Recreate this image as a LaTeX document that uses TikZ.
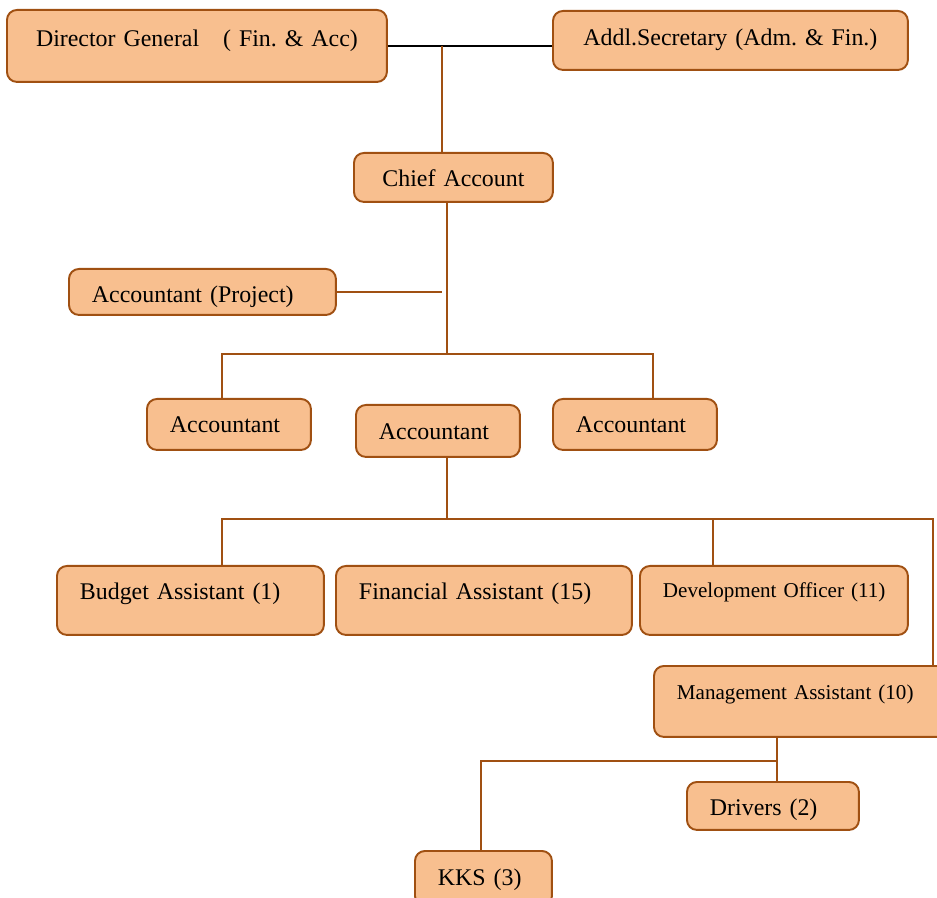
\documentclass[tikz,border=0pt]{standalone}
\usepackage{fontspec}
\setmainfont{Liberation Serif}
\usetikzlibrary{positioning}
\definecolor{boxfill}{RGB}{248,191,143}
\definecolor{boxline}{RGB}{160,80,18}
\frenchspacing
\begin{document}
\begin{tikzpicture}[x=0.02cm,y=-0.02cm,
    post/.style={draw=boxline, fill=boxfill, line width=1.1pt, rounded corners=0.2cm, anchor=north west,
        inner xsep=0.46cm, inner ysep=0pt, align=left, text height=0.68cm, font=\fontsize{13.6}{16}\selectfont},
    postsmall/.style={post, font=\fontsize{12}{14}\selectfont},
    link/.style={draw=boxline, line width=0.9pt}]
    \clip (0,0) rectangle (937,898);
    \node[post,align=center,text width=6.68cm,text height=0.74cm,text depth=0.70cm] (dg) at (6,9) {Director General \ \ ( Fin. \& Acc)};
    \node[post,align=center,text width=6.18cm,text height=0.70cm,text depth=0.48cm] (as) at (552,10) {Addl.Secretary (Adm. \& Fin.)};
    \node[post,align=center,text width=3.06cm,text depth=0.30cm] (ca) at (353,152) {Chief Account};
    \node[post,text width=4.42cm,text depth=0.24cm] (ap) at (68,268) {Accountant (Project)};
    \node[post,text width=2.36cm,text depth=0.34cm] (a1) at (146,398) {Accountant};
    \node[post,text width=2.36cm,text height=0.70cm,text depth=0.34cm] (a2) at (355,404) {Accountant};
    \node[post,text width=2.36cm,text depth=0.34cm] (a3) at (552,398) {Accountant};
    \node[post,text width=4.42cm,text depth=0.70cm] (ba) at (56,565) {Budget Assistant (1)};
    \node[post,text width=5.00cm,text depth=0.70cm] (fa) at (335,565) {Financial Assistant (15)};
    \node[postsmall,text width=4.44cm,text height=0.64cm,text depth=0.74cm] (do) at (639,565) {\mbox{Development Officer (11)}};
    \node[postsmall,text width=5.08cm,text depth=0.74cm] (ma) at (653,665) {Management Assistant (10)};
    \node[post,text width=2.52cm,text depth=0.28cm] (dr) at (686,781) {Drivers (2)};
    \node[post,text width=1.82cm,text height=0.70cm,text depth=0.40cm] (kk) at (414,850) {KKS (3)};

    \coordinate (j1) at (442,46);
    \coordinate (j2) at (447,354);
    \coordinate (b1) at (222,354);
    \coordinate (b3) at (653,354);
    \coordinate (j4) at (447,519);
    \coordinate (c1) at (222,519);
    \coordinate (c3) at (713,519);
    \coordinate (c4) at (933,519);
    \coordinate (d1) at (777,761);
    \coordinate (d2) at (481,761);

    \draw[line width=0.9pt] (dg.east |- j1) -- (as.west |- j1);
    \draw[link] (j1) -- (j1 |- ca.north);
    \draw[link] (j2 |- ca.south) -- (j2);
    \draw[link] (ap.east) -- (ap.east -| j1);
    \draw[link] (b1 |- a1.north) -- (b1) -- (b3) -- (b3 |- a3.north);
    \draw[link] (j4 |- a2.south) -- (j4);
    \draw[link] (c1 |- ba.north) -- (c1) -- (c4) -- (c4 |- ma.north);
    \draw[link] (c3) -- (c3 |- do.north);
    \draw[link] (d1 |- ma.south) -- (d1 |- dr.north);
    \draw[link] (d1) -- (d2) -- (d2 |- kk.north);
\end{tikzpicture}
\end{document}
